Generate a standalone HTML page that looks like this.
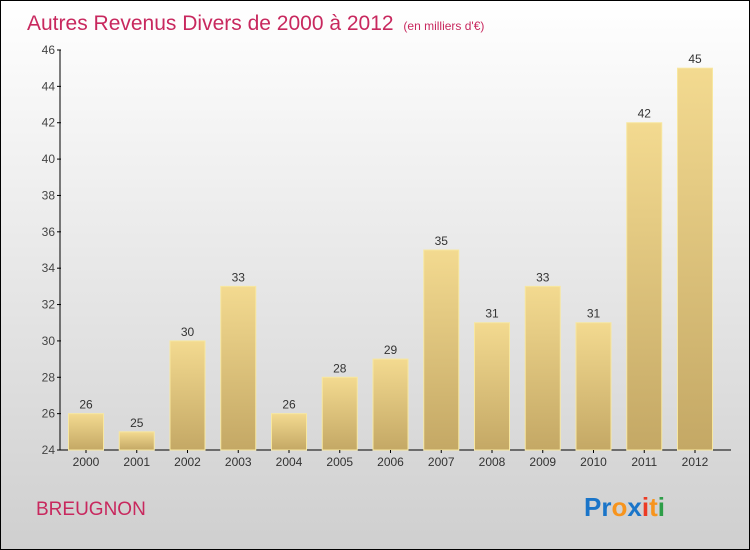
<!DOCTYPE html>
<html><head><meta charset="utf-8"><style>
body{margin:0}
#c{width:750px;height:550px;position:relative;box-sizing:border-box;border:1px solid #000;background:linear-gradient(#ffffff,#cfcfcf);font-family:"Liberation Sans",sans-serif;overflow:hidden}
</style></head><body>
<div id="c">
<svg width="748" height="548" id="s">
<defs><linearGradient id="g" x1="0" y1="0" x2="0" y2="1"><stop offset="0" stop-color="#f3da90"/><stop offset="1" stop-color="#c4a865"/></linearGradient></defs>
<text x="26" y="29" font-size="21" fill="#c8285e">Autres Revenus Divers de 2000 à 2012 <tspan font-size="12" dx="4">(en milliers d'€)</tspan></text>
<text x="35" y="514" font-size="19" fill="#c8285e">BREUGNON</text>
<text x="583" y="515" font-size="26" font-weight="bold"><tspan fill="#1a75c9">Pr</tspan><tspan fill="#f7941d">o</tspan><tspan fill="#1a75c9">x</tspan><tspan fill="#ec3b24">i</tspan><tspan fill="#f7941d">t</tspan><tspan fill="#2e9e48">i</tspan></text>
<g id="plot"></g>
</svg>
</div>
<script>
const years=["2000","2001","2002","2003","2004","2005","2006","2007","2008","2009","2010","2011","2012"];
const values=[26,25,30,33,26,28,29,35,31,33,31,42,45];
const yTicks=[24,26,28,30,32,34,36,38,40,42,44,46];
const NS="http://www.w3.org/2000/svg";
const g=document.getElementById('plot');
const y0=449,y1=49,vmin=24,vmax=46;
const Y=v=>y0-(v-vmin)/(vmax-vmin)*(y0-y1);
const X=i=>85+i*50.75;
function el(t,a,p){const e=document.createElementNS(NS,t);for(const k in a)e.setAttribute(k,a[k]);(p||g).appendChild(e);return e;}
let ax=el('line',{x1:59,y1:y1,x2:59,y2:y0,stroke:'#000'});


let xa=el('line',{x1:59,y1:y0,x2:730,y2:y0,stroke:'#000'});


yTicks.forEach(v=>{
 el('line',{x1:56,x2:60,y1:Y(v),y2:Y(v),stroke:'#000'});
 let t=el('text',{x:54,y:Y(v)+4,'text-anchor':'end','font-size':12,fill:'#444'});t.textContent=v;
 
 
});
years.forEach((yr,i)=>{
 const v=values[i];
 let r=el('rect',{x:X(i)-17.5,y:Y(v),width:35,height:y0-Y(v),fill:'url(#g)',stroke:'#f7e7a0','stroke-width':1});
 
 
 let l=el('text',{x:X(i),y:Y(v)-5,'text-anchor':'middle','font-size':12,fill:'#333'});l.textContent=v;
 
 
 el('line',{x1:X(i),x2:X(i),y1:y0,y2:y0+3,stroke:'#000'});
 let t=el('text',{x:X(i),y:y0+16,'text-anchor':'middle','font-size':12,fill:'#333'});t.textContent=yr;
 
 
});
</script>
</body></html>
